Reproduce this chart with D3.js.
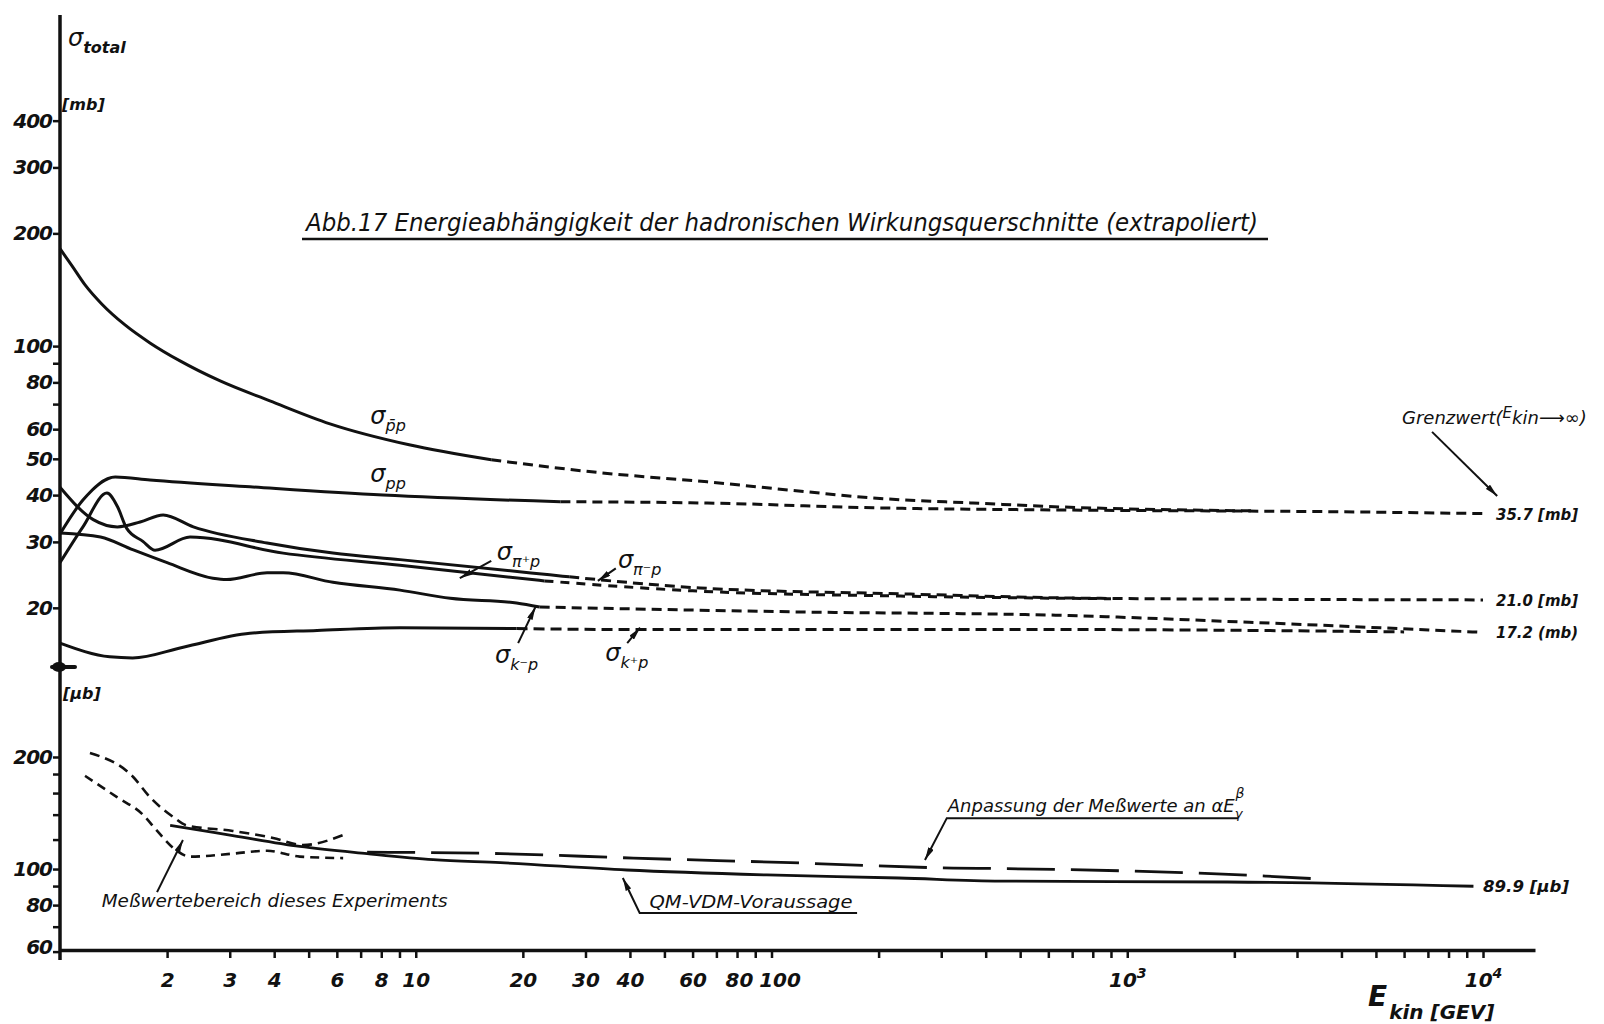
<!DOCTYPE html>
<html>
<head>
<meta charset="utf-8">
<script src="https://cdn.jsdelivr.net/npm/d3@7"></script>
<style>
  body { margin: 0; background: #fff; }
  svg { display: block; }
  text { font-family: "DejaVu Sans", sans-serif; font-style: italic; fill: #111; }
  .tick text { font-weight: bold; font-size: 20px; }
  .tick line, .domain { stroke: #111; }
</style>
</head>
<body>
<svg id="chart"></svg>
<script>
// Energy E_kin in GeV, upper panel in mb, lower panel in µb
// measured (solid) and extrapolated (dashed) pieces of each curve
var pbarpMeasured = [[1, 182], [1.081, 163.8], [1.176, 145.7], [1.31, 129.6], [1.523, 113.9], [1.79, 102], [2.175, 91.3], [2.82, 80.7], [3.89, 71.4], [5.74, 62.0], [9.58, 54.5], [16.3, 49.7]];
var pbarpExtrap = [[16.3, 49.7], [33, 45.9], [66, 43.4], [126, 40.8], [193, 39.3], [368, 38.1], [647, 37.2], [2300, 36.3]];

var ppMeasured = [[1, 31.5], [1.16, 38.8], [1.43, 44.7], [1.79, 43.9], [3.42, 42.1], [8.09, 40.0], [25.5, 38.4]];
var ppExtrap = [[25.5, 38.4], [66, 38.1], [193, 37.0], [647, 36.5], [3980, 36.1], [10000, 35.7]];

var pimMeasured = [[1, 42], [1.24, 34.4], [1.45, 32.9], [1.68, 33.9], [1.95, 35.4], [2.37, 32.9], [3.82, 29.8], [5.85, 28.0], [9.03, 26.9], [23.8, 24.5], [27, 24.2]];
var pimExtrap = [[27, 24.2], [63, 22.6], [229, 21.8], [842, 21.2], [10000, 21.0]];

var pipMeasured = [[1, 26.4], [1.16, 32.9], [1.355, 40.5], [1.45, 37.3], [1.54, 32.6], [1.71, 30.1], [1.85, 28.5], [2.32, 30.9], [4.24, 28.0], [9.03, 26.0], [23, 23.6]];
var pipExtrap = [[23, 23.6], [60, 22.2], [230, 21.5], [900, 21.15]];

var kmMeasured = [[1, 31.7], [1.3, 30.9], [1.6, 28.6], [2.0, 26.4], [2.69, 24.0], [2.94, 23.8], [3.82, 24.8], [4.24, 24.8], [5.85, 23.4], [9.03, 22.3], [12.5, 21.2], [19.2, 20.6], [22.3, 20.1]];
var kmExtrap = [[22.3, 20.1], [120, 19.5], [647, 19.1], [2200, 18.3], [10000, 17.2]];

var kpMeasured = [[1, 16.1], [1.38, 14.8], [1.6, 14.7], [2.22, 15.7], [3.42, 17.1], [5.28, 17.4], [9.03, 17.7], [19.2, 17.6]];
var kpExtrap = [[19.2, 17.6], [42.6, 17.5], [647, 17.5], [6000, 17.25]];

// photoproduction (µb)
var rangeUpper = [[1.214, 205], [1.604, 177], [1.79, 156], [2.08, 138], [2.27, 131], [3.06, 126.6], [3.97, 121.2], [4.82, 116], [6.25, 123.4]];
var rangeLower = [[1.176, 178], [1.446, 156], [1.71, 140], [1.87, 127], [2.08, 114], [2.32, 108], [3.06, 110], [3.82, 112], [4.72, 108], [6.25, 107]];
var qmvdm = [[2.04, 131], [3.06, 123], [4.72, 115], [7.3, 110], [11.2, 106], [17.3, 104], [39.2, 99.4], [97, 96.4], [228, 94.6], [440, 92.8], [1910, 92.3], [9400, 89.9]];
var powerFit = [[7.3, 111], [17.3, 110], [40.9, 107], [113, 104], [324, 100.6], [440, 100.3], [2460, 95.7], [3480, 94]];

// limits at E -> infinity
var limitValues = [35.7, 21.0, 17.2];
var limitTexts = ["35.7 [mb]", "21.0 [mb]", "17.2 (mb)"];
var photoLimit = 89.9;

// ticks
var xLabeled = [2, 3, 4, 6, 8, 10, 20, 30, 40, 60, 80, 100, 1000, 10000];
var yTopTicks = [400, 300, 200, 100, 80, 60, 50, 40, 30, 20];
var yTopMinor = [90, 70];
var yBotTicks = [200, 100, 80, 60];
var yBotMinor = [180, 160, 140, 120, 90, 70];

var ink = "#111";
var svg = d3.select("#chart").attr("width", 1604).attr("height", 1024);

var x = d3.scaleLog().domain([1, 14000]).range([60, 1535]);
var yTop = d3.scaleLog().domain([13.9, 766]).range([667, 15]);
var yBot = d3.scaleLog().domain([60.6, 349]).range([950, 667]);

var defs = svg.append("defs");
defs.append("marker")
  .attr("id", "arr")
  .attr("viewBox", "0 0 13 6")
  .attr("refX", 13).attr("refY", 3)
  .attr("markerWidth", 13).attr("markerHeight", 6)
  .attr("markerUnits", "userSpaceOnUse")
  .attr("orient", "auto")
  .append("path").attr("d", "M0,0L13,3L0,6Z").attr("fill", ink);

function drawPiece(data, yScale, dash, w) {
  var gen = d3.line()
    .x(d => x(d[0]))
    .y(d => yScale(d[1]))
    .curve(d3.curveMonotoneX);
  svg.append("path").datum(data)
    .attr("d", gen)
    .attr("fill", "none")
    .attr("stroke", ink)
    .attr("stroke-width", w || 3)
    .attr("stroke-dasharray", dash || null);
}

function arrow(points, yScale) {
  svg.append("path")
    .attr("d", d3.line().x(d => x(d[0])).y(d => yScale(d[1]))(points))
    .attr("fill", "none").attr("stroke", ink).attr("stroke-width", 2)
    .attr("marker-end", "url(#arr)");
}

function sigmaLabel(E, v, yScale, sub) {
  var t = svg.append("text").attr("x", x(E)).attr("y", yScale(v));
  t.append("tspan").attr("font-size", 24).text("σ");
  t.append("tspan").attr("font-size", 16).attr("dy", 7).text(sub);
}

// ---- upper panel curves
var dashUp = "10,6";
drawPiece(pbarpMeasured, yTop);
drawPiece(pbarpExtrap, yTop, dashUp);
drawPiece(ppMeasured, yTop);
drawPiece(ppExtrap, yTop, dashUp);
drawPiece(pimMeasured, yTop);
drawPiece(pimExtrap, yTop, dashUp);
drawPiece(pipMeasured, yTop);
drawPiece(pipExtrap, yTop, "9,7");
drawPiece(kmMeasured, yTop);
drawPiece(kmExtrap, yTop, dashUp);
drawPiece(kpMeasured, yTop);
drawPiece(kpExtrap, yTop, "11,6");

// ---- lower panel curves
drawPiece(rangeUpper, yBot, "10,6", 2.6);
drawPiece(rangeLower, yBot, "9,6", 2.6);
drawPiece(qmvdm, yBot, null, 2.8);
drawPiece(powerFit, yBot, "48,16", 2.8);

// ---- axes
var xAxis = d3.axisBottom(x)
  .tickValues(x.ticks().filter(d => d >= 2 && d <= 10000))
  .tickSize(8).tickSizeOuter(0).tickPadding(15)
  .tickFormat(d => (xLabeled.includes(d) && d < 1000) ? d : "");
var gx = svg.append("g")
  .attr("transform", `translate(0,${yBot.range()[0]})`)
  .call(xAxis);
gx.select(".domain").attr("stroke-width", 3.5);
gx.selectAll(".tick line").attr("stroke-width", 2.5);
gx.selectAll(".tick text").filter(d => d === 100).attr("dx", 8);
gx.selectAll(".tick text").filter(d => d === 80).attr("dx", 2);
gx.selectAll(".tick").filter(d => d >= 1000 && xLabeled.includes(d))
  .select("text").each(function(d) {
    var t = d3.select(this).text("10");
    t.append("tspan").attr("font-size", 14).attr("dy", -9).text(Math.round(Math.log10(d)));
  });

var gyT = svg.append("g")
  .attr("transform", `translate(${x(1)},0)`)
  .call(d3.axisLeft(yTop).tickValues(yTopTicks.concat(yTopMinor)).tickSize(7).tickPadding(1)
    .tickFormat(d => yTopTicks.includes(d) ? d : ""));
var gyB = svg.append("g")
  .attr("transform", `translate(${x(1)},0)`)
  .call(d3.axisLeft(yBot).tickValues(yBotTicks.concat(yBotMinor)).tickSize(7).tickPadding(1)
    .tickFormat(d => yBotTicks.includes(d) ? d : ""));
[gyT, gyB].forEach(g => {
  g.select(".domain").remove();
  g.selectAll(".tick line").attr("stroke-width", 2.5);
  g.selectAll(".tick text").attr("letter-spacing", -1);
});
gyB.selectAll(".tick text").filter(d => d === 60).attr("dy", "0.1em");

// vertical axis line through both panels
svg.append("line")
  .attr("x1", x(1)).attr("x2", x(1))
  .attr("y1", yTop.range()[1]).attr("y2", yBot.range()[0] + 10)
  .attr("stroke", ink).attr("stroke-width", 3.5);

// axis break mark
var yBreak = yTop.range()[0];
svg.append("line")
  .attr("x1", x(1) - 8).attr("x2", x(1) + 15)
  .attr("y1", yBreak).attr("y2", yBreak)
  .attr("stroke", ink).attr("stroke-width", 4).attr("stroke-linecap", "round");
svg.append("ellipse")
  .attr("cx", x(1) - 1).attr("cy", yBreak).attr("rx", 7).attr("ry", 5).attr("fill", ink);

// axis titles and units
var st = svg.append("text").attr("x", 68).attr("y", 46);
st.append("tspan").attr("font-size", 24).text("σ");
st.append("tspan").attr("font-size", 16).attr("dy", 7).attr("font-weight", "bold").text("total");
svg.append("text").attr("x", 62).attr("y", 110).attr("font-size", 16).attr("font-weight", "bold").text("[mb]");
svg.append("text").attr("x", 63).attr("y", 699).attr("font-size", 16).attr("font-weight", "bold").text("[µb]");

var et = svg.append("text").attr("x", 1368).attr("y", 1006).attr("font-weight", "bold");
et.append("tspan").attr("font-size", 28).text("E");
et.append("tspan").attr("font-size", 20).attr("dy", 13).attr("dx", 2).text("kin [GEV]");

// title
svg.append("text")
  .attr("x", 306).attr("y", 231)
  .attr("font-size", 24)
  .attr("textLength", 952).attr("lengthAdjust", "spacingAndGlyphs")
  .text("Abb.17 Energieabhängigkeit der hadronischen Wirkungsquerschnitte (extrapoliert)");
svg.append("line")
  .attr("x1", 302).attr("x2", 1268).attr("y1", 239).attr("y2", 239)
  .attr("stroke", ink).attr("stroke-width", 2.5);

// curve labels
sigmaLabel(7.45, 62, yTop, "p̄p");
sigmaLabel(7.45, 43.3, yTop, "pp");
sigmaLabel(16.9, 26.9, yTop, "π⁺p");
arrow([[16.3, 26.7], [13.3, 24.0]], yTop);
sigmaLabel(37.0, 25.6, yTop, "π⁻p");
arrow([[36.5, 25.5], [32.5, 23.6]], yTop);
sigmaLabel(16.7, 14.26, yTop, "k⁻p");
arrow([[19.4, 16.1], [21.7, 20.1]], yTop);
sigmaLabel(34.1, 14.4, yTop, "k⁺p");
arrow([[39.3, 16.1], [42.7, 17.7]], yTop);

// limits
svg.selectAll(".limit").data(limitValues).enter().append("text")
  .attr("class", "limit")
  .attr("x", x(10000) + 13)
  .attr("y", d => yTop(d) + 6)
  .attr("font-size", 16).attr("font-weight", "bold")
  .attr("textLength", 82).attr("lengthAdjust", "spacingAndGlyphs")
  .text((d, i) => limitTexts[i]);

var gw = svg.append("text").attr("x", x(5920)).attr("y", yTop(62)).attr("font-size", 18);
gw.append("tspan").text("Grenzwert(");
gw.append("tspan").attr("font-size", 15).attr("dy", -6).text("E");
gw.append("tspan").attr("dy", 6).text("kin⟶∞)");
arrow([[7190, 59], [10960, 39.8]], yTop);

svg.append("text")
  .attr("x", x(10000)).attr("y", yBot(photoLimit) + 6)
  .attr("font-size", 16).attr("font-weight", "bold")
  .attr("textLength", 86).attr("lengthAdjust", "spacingAndGlyphs")
  .text("89.9 [µb]");

// lower panel annotations
svg.append("text")
  .attr("x", x(1.31)).attr("y", yBot(79.1)).attr("font-size", 18)
  .attr("textLength", 346).attr("lengthAdjust", "spacingAndGlyphs")
  .text("Meßwertebereich dieses Experiments");
arrow([[1.874, 86.7], [2.216, 119.7]], yBot);

svg.append("text")
  .attr("x", x(45.4)).attr("y", yBot(78.6)).attr("font-size", 18)
  .attr("textLength", 203).attr("lengthAdjust", "spacingAndGlyphs")
  .text("QM-VDM-Voraussage");
arrow([[174, 76.2], [42.6, 76.2], [38.2, 94.6]], yBot);

var an = svg.append("text").attr("x", x(313)).attr("y", yBot(142)).attr("font-size", 18);
an.append("tspan").text("Anpassung der Meßwerte an αE");
an.append("tspan").attr("font-size", 13).attr("dy", 6).text("γ");
an.append("tspan").attr("font-size", 14).attr("dy", -20).attr("dx", -7).text("β");
arrow([[2048, 137], [311, 137], [270, 105.7]], yBot);
</script>
</body>
</html>
